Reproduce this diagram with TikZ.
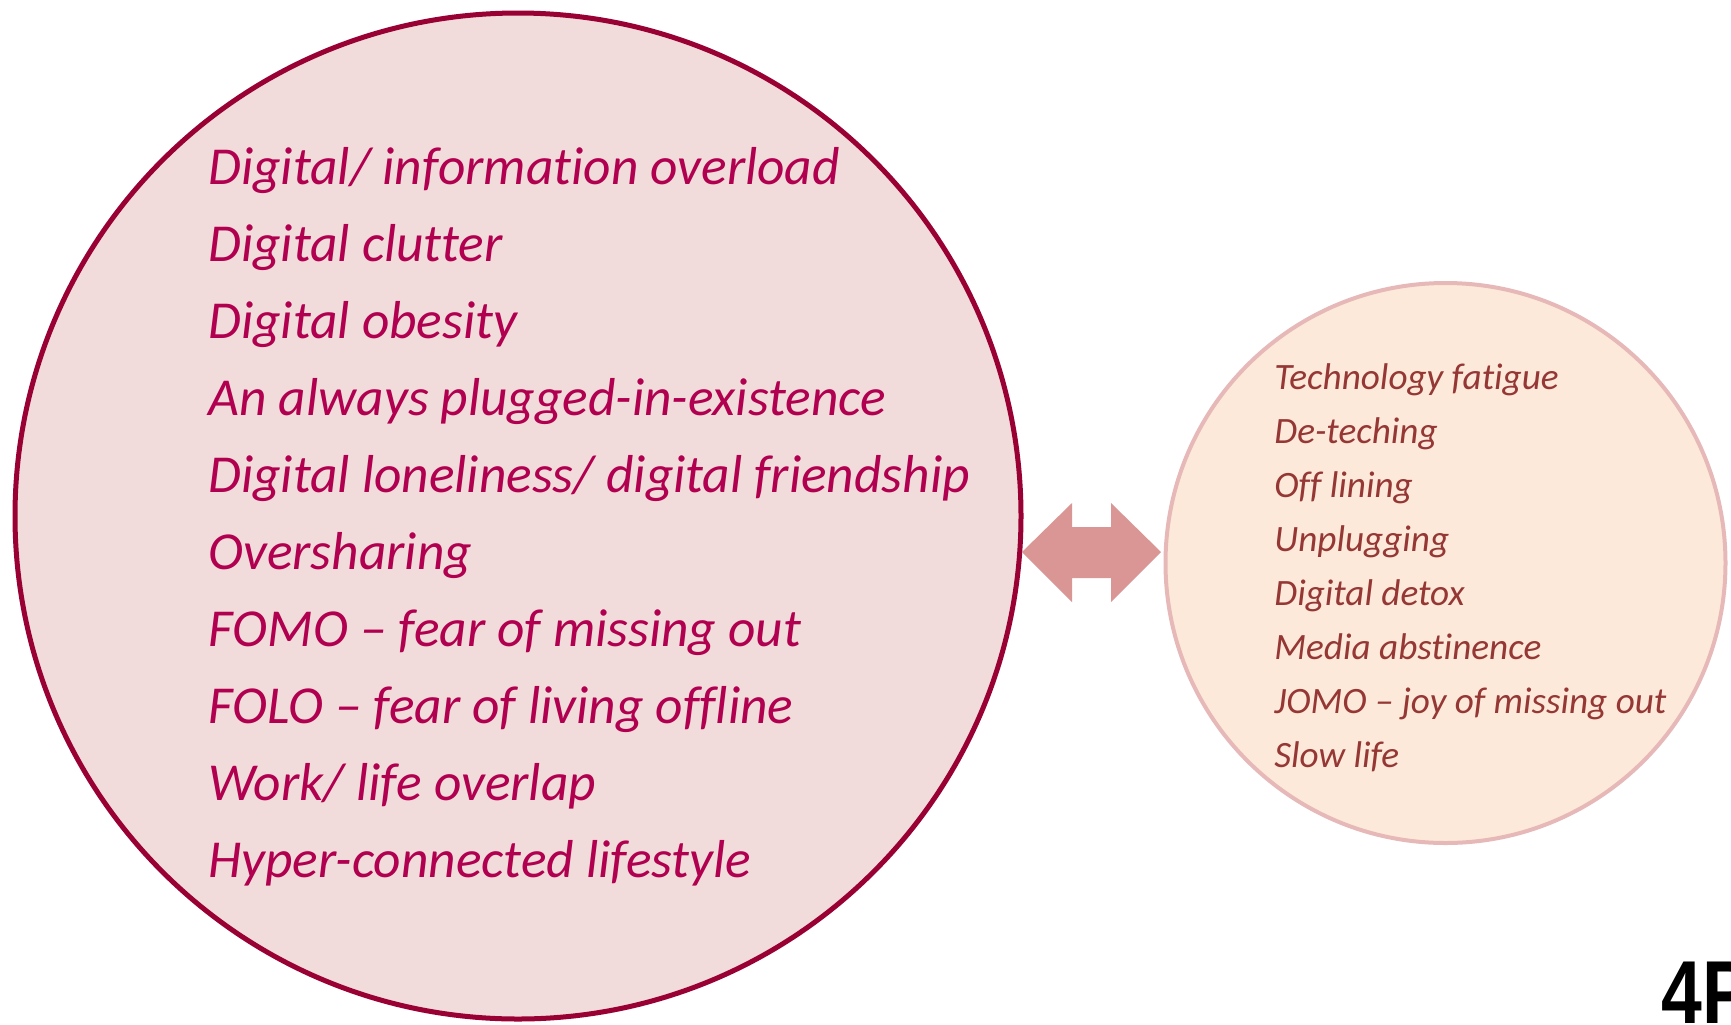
\documentclass[tikz,border=0pt]{standalone}
\usepackage{fontspec}
\setmainfont[Ligatures=NoCommon]{Carlito}
\newfontfamily\logofont[FakeStretch=0.82]{Liberation Sans}
\usetikzlibrary{calc}
\definecolor{bigfill}{HTML}{F2DCDB}
\definecolor{bigdraw}{HTML}{990033}
\definecolor{bigtext}{HTML}{B0004F}
\definecolor{smallfill}{HTML}{FDE9D9}
\definecolor{smalldraw}{HTML}{E6B9B8}
\definecolor{smalltext}{HTML}{953735}
\definecolor{arrowcol}{HTML}{D99694}
\begin{document}
\begin{tikzpicture}[x=0.5pt,y=-0.5pt,
  bigitem/.style={anchor=base west, inner sep=0, text=bigtext, font=\fontsize{26.7}{31}\selectfont\itshape},
  smallitem/.style={anchor=base west, inner sep=0, text=smalltext, font=\fontsize{18.6}{22}\selectfont\itshape},
  bigcircle/.style={circle, draw=bigdraw, fill=bigfill, line width=2.5pt, minimum size=503pt, inner sep=0},
  smallcircle/.style={circle, draw=smalldraw, fill=smallfill, line width=2pt, minimum size=280pt, inner sep=0},
  dblarrow/.style={fill=arrowcol, draw=none},
  logo/.style={anchor=base west, inner sep=0, text=black, font=\logofont\fontsize{44.7}{50}\selectfont\bfseries}
]
\useasboundingbox (0,0) rectangle (1731,1024);
\clip (0,0) rectangle (1731,1024);
\fill[white] (0,0) rectangle (1731,1024);

\node[bigcircle] (big) at (518,516) {};
\node[smallcircle] (small) at (1445.5,563) {};

% double arrow between the circles
\coordinate (lt) at (1022,552);
\coordinate (rt) at (1161,552);
\fill[dblarrow] (lt) -- ($(lt)+(50,-49)$) -- ($(lt)+(50,-25)$) -- ($(rt)+(-50,-25)$) -- ($(rt)+(-50,-49)$)
  -- (rt) -- ($(rt)+(-50,50)$) -- ($(rt)+(-50,26)$) -- ($(lt)+(50,26)$) -- ($(lt)+(50,50)$) -- cycle;

% big circle texts
\node[bigitem] (b1) at (208,184) {Digital/ information overload};
\node[bigitem] (b2) at (208,261) {Digital clutter};
\node[bigitem] (b3) at (208,338) {Digital obesity};
\node[bigitem] (b4) at (208,415) {An always plugged-in-existence};
\node[bigitem] (b5) at (208,492) {Digital loneliness/ digital friendship};
\node[bigitem] (b6) at (208,569) {Oversharing};
\node[bigitem] (b7) at (208,646) {FOMO -- fear of missing out};
\node[bigitem] (b8) at (208,723) {FOLO -- fear of living offline};
\node[bigitem] (b9) at (208,800) {Work/ life overlap};
\node[bigitem] (b10) at (208,877) {Hyper-connected lifestyle};

% small circle texts
\node[smallitem] (s1) at (1274,389) {Technology fatigue};
\node[smallitem] (s2) at (1274,443) {De-teching};
\node[smallitem] (s3) at (1274,497) {Off lining};
\node[smallitem] (s4) at (1274,551) {Unplugging};
\node[smallitem] (s5) at (1274,605) {Digital detox};
\node[smallitem] (s6) at (1274,659) {Media abstinence};
\node[smallitem] (s7) at (1274,713) {JOMO -- joy of missing out};
\node[smallitem] (s8) at (1274,767) {Slow life};

\node[logo] (lg) at (1661,1023) {4P};
\end{tikzpicture}
\end{document}
